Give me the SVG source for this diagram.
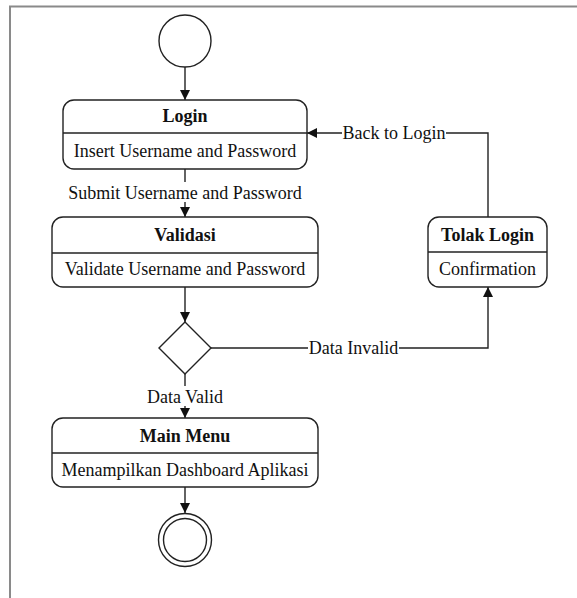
<svg xmlns="http://www.w3.org/2000/svg" width="577" height="598" viewBox="0 0 577 598">
<style>
.box{fill:#fff;stroke:#222;stroke-width:1.4}
.ln{fill:none;stroke:#222;stroke-width:1.4}
text{font-family:"Liberation Serif","Times New Roman",serif;font-size:18px;fill:#111}
.t{font-weight:bold;text-anchor:middle}
.s{text-anchor:middle}
.lbl{fill:#fff;stroke:none}
</style>
<defs>
<marker id="arr" markerWidth="10" markerHeight="10" refX="10" refY="5" orient="auto" markerUnits="userSpaceOnUse">
<path d="M0,0 L10,5 L0,10 Z" fill="#111"/>
</marker>
</defs>
<rect x="0" y="0" width="577" height="598" fill="#fff"/>
<path d="M10,598 V6.5 H577" fill="none" stroke="#8a8a8a" stroke-width="2"/>
<g id="connectors">
<line class="ln" x1="185" y1="67" x2="185" y2="100" marker-end="url(#arr)"/>
<line class="ln" x1="185" y1="169" x2="185" y2="217" marker-end="url(#arr)"/>
<line class="ln" x1="185" y1="287" x2="185" y2="322" marker-end="url(#arr)"/>
<line class="ln" x1="185" y1="374" x2="185" y2="418" marker-end="url(#arr)"/>
<line class="ln" x1="185" y1="487" x2="185" y2="513" marker-end="url(#arr)"/>
<polyline class="ln" points="211,348 488,348 488,287" marker-end="url(#arr)"/>
<polyline class="ln" points="488,217 488,133 307,133" marker-end="url(#arr)"/>
<rect class="lbl" x="62" y="182" width="246" height="20"/>
<text class="s" x="185" y="199">Submit Username and Password</text>
<rect class="lbl" x="342" y="124" width="104" height="20"/>
<text class="s" x="394" y="139">Back to Login</text>
<rect class="lbl" x="308" y="339" width="91" height="20"/>
<text class="s" x="353.5" y="354">Data Invalid</text>
<rect class="lbl" x="144" y="386" width="82" height="20"/>
<text class="s" x="185" y="403">Data Valid</text>
</g>
<g id="start">
<circle cx="185" cy="41" r="26" fill="#fff" stroke="#222" stroke-width="1.4"/>
</g>
<g id="login">
<rect class="box" x="63" y="100" width="244" height="69" rx="11"/>
<line class="ln" x1="63" y1="133" x2="307" y2="133"/>
<text class="t" x="185" y="122">Login</text>
<text class="s" x="185" y="157">Insert Username and Password</text>
</g>
<g id="validasi">
<rect class="box" x="52" y="217" width="266" height="70" rx="11"/>
<line class="ln" x1="52" y1="253" x2="318" y2="253"/>
<text class="t" x="185" y="241">Validasi</text>
<text class="s" x="185" y="275">Validate Username and Password</text>
</g>
<g id="decision">
<polygon class="box" points="185,322 211,348 185,374 159,348"/>
</g>
<g id="tolak">
<rect class="box" x="428" y="217" width="119" height="70" rx="11"/>
<line class="ln" x1="428" y1="252" x2="547" y2="252"/>
<text class="t" x="487.5" y="241">Tolak Login</text>
<text class="s" x="487.5" y="275">Confirmation</text>
</g>
<g id="mainmenu">
<rect class="box" x="52" y="418" width="266" height="69" rx="11"/>
<line class="ln" x1="52" y1="453" x2="318" y2="453"/>
<text class="t" x="185" y="442">Main Menu</text>
<text class="s" x="185" y="476">Menampilkan Dashboard Aplikasi</text>
</g>
<g id="end">
<circle cx="185" cy="540" r="26.5" fill="#fff" stroke="#222" stroke-width="1.4"/>
<circle cx="185" cy="540" r="21.5" fill="none" stroke="#222" stroke-width="1.4"/>
</g>
</svg>
